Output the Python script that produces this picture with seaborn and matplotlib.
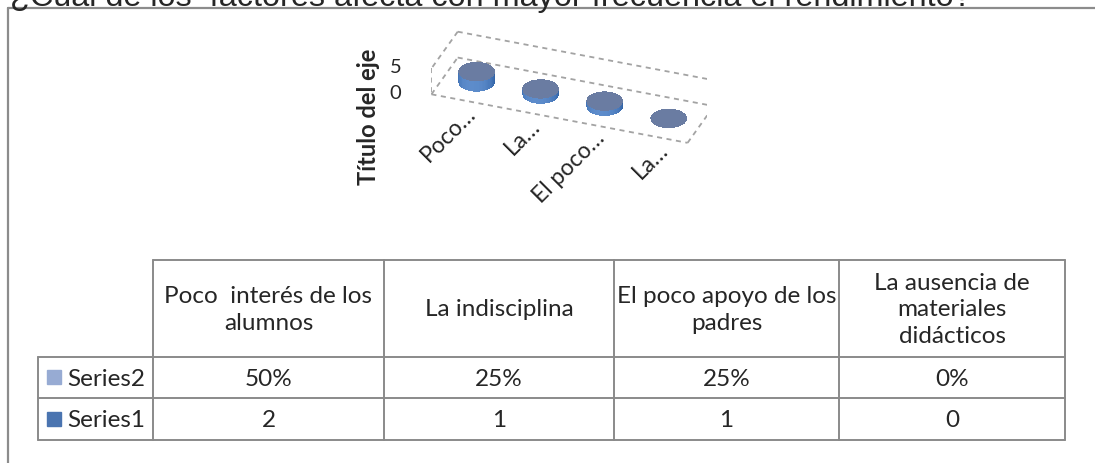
import numpy as np
import matplotlib
matplotlib.use("Agg")
import matplotlib.pyplot as plt
from matplotlib.patches import Rectangle
from matplotlib.transforms import Bbox
from mpl_toolkits.mplot3d import proj3d
import seaborn as sns

# data
categories = ["Poco  interés de los\nalumnos", "La indisciplina",
              "El poco apoyo de los\npadres", "La ausencia de\nmateriales\ndidácticos"]
axis_labels = ["Poco…", "La…", "El poco…", "La…"]
series_names = ["Series2", "Series1"]
series2 = [50, 25, 25, 0]
series1 = [2, 1, 1, 0]
value_ticks = [0, 5]
title = "¿Cuál de los  factores afecta con mayor frecuencia el rendimiento?"

sns.set_theme(style="white")
plt.rcParams['font.family'] = ['Lato', 'DejaVu Sans']

top_color = '#6a7ca2'
side_cmap = sns.blend_palette(['#1f4a85', '#3c6db0', '#5d8ccb'], as_cmap=True)
legend_colors = ['#97abd3', '#4a74b0']
line_gray = '#8c8c8c'

# the figure is a bit taller than the output; the top strip is cropped on save
W, H, extra = 1095, 464, 30
fig = plt.figure(figsize=(W / 100, (H + extra) / 100), dpi=100)

# background canvas in pixel units (frame, title, data table)
bg = fig.add_axes([0, 0, 1, H / (H + extra)])
bg.set_xlim(0, W)
bg.set_ylim(H, 0)
bg.axis('off')

bg.plot([8, 8], [9, H], color=line_gray, lw=1.6)
bg.plot([8, W], [9, 9], color=line_gray, lw=1.6)
bg.text(10, 13, title, fontsize=23.3, family='Liberation Sans',
        ha='left', va='bottom', clip_on=False)

# data table
col_x = [153, 384, 614, 839, 1065]
leg_x = 38
row_y = [261, 358, 399, 441]
tcol = '#8a8a8a'
bg.plot([col_x[0], col_x[-1]], [row_y[0], row_y[0]], color=tcol, lw=1.4)
for y in row_y[1:]:
    bg.plot([leg_x, col_x[-1]], [y, y], color=tcol, lw=1.4)
for x in col_x:
    bg.plot([x, x], [row_y[0], row_y[-1]], color=tcol, lw=1.4)
bg.plot([leg_x, leg_x], [row_y[1], row_y[-1]], color=tcol, lw=1.4)

for i, cat in enumerate(categories):
    xc = (col_x[i] + col_x[i + 1]) / 2
    bg.text(xc, 310, cat, ha='center', va='center', fontsize=17.5, linespacing=1.32)
    bg.text(xc, (row_y[1] + row_y[2]) / 2 + 1, f"{series2[i]}%", ha='center', va='center', fontsize=17.5)
    bg.text(xc, (row_y[2] + row_y[3]) / 2 + 1, str(series1[i]), ha='center', va='center', fontsize=17.5)

for r, (name, c) in enumerate(zip(series_names, legend_colors)):
    yc = (row_y[r + 1] + row_y[r + 2]) / 2
    bg.add_patch(Rectangle((47, yc - 7), 14, 14, color=c))
    bg.text(67, yc + 1, name, ha='left', va='center', fontsize=17.5)

bg.text(368, 117, "Título del eje", rotation=90, ha='center', va='center',
        fontsize=17, fontweight='bold')

# 3D cylinder chart (square axes, 276.6 px side)
side = 276.6
ax = fig.add_axes([430.6 / W, 233.7 / (H + extra), side / W, side / (H + extra)],
                  projection='3d', computed_zorder=False)
ax.set_facecolor('none')
ax.set_proj_type('ortho')
ax.set_box_aspect((3.59, 1, 0.397))
ax.view_init(elev=31, azim=-69.8)
n = len(series1)
zmax = value_ticks[-1]
ax.set_xlim(0, n)
ax.set_ylim(0, 1)
ax.set_zlim(0, zmax)
ax.set_axis_off()

edges = [
    [(0, 0), (1, 0), (zmax, zmax)],
    [(0, 0), (0, 0), (zmax, 0)],
    [(0, 0), (0, 1), (0, 0)],
    [(0, n), (1, 1), (zmax, zmax)],
    [(0, n), (1, 1), (0, 0)],
    [(0, n), (0, 0), (0, 0)],
    [(n, n), (0, 1), (0, 0)],
]
for xs, ys, zs in edges:
    ax.plot(xs, ys, zs, color='#a3a3a3', lw=1.3, ls=(0, (2.8, 2.5)), zorder=1)

rx = 0.26
ry = rx * 3.59 / n
az = np.deg2rad(-69.8)
theta = np.linspace(0, 2 * np.pi, 73)
for i, h in enumerate(series1):
    cx, cy = i + 0.5, 0.5
    if h > 0:
        X = np.vstack([cx + rx * np.cos(theta)] * 2)
        Y = np.vstack([cy + ry * np.sin(theta)] * 2)
        Z = np.vstack([np.zeros_like(theta), np.full_like(theta, h)])
        shade = np.clip(0.4 + 0.6 * np.cos(theta - az + 0.3), 0, 1)
        fc = np.repeat(side_cmap(shade)[None, :, :], 2, axis=0)
        ax.plot_surface(X, Y, Z, facecolors=fc, shade=False, linewidth=0,
                        antialiased=False, rstride=1, cstride=1, zorder=2)
    rr = np.array([0.0, 1.0])
    X = cx + rx * np.outer(rr, np.cos(theta))
    Y = cy + ry * np.outer(rr, np.sin(theta))
    Z = np.full_like(X, h)
    ax.plot_surface(X, Y, Z, color=top_color, shade=False, linewidth=0,
                    antialiased=False, rstride=1, cstride=1, zorder=3)

M = ax.get_proj()
for v in value_ticks:
    px, py, _ = proj3d.proj_transform(0, 0, v, M)
    ax.annotate(str(v), xy=(px, py), xycoords='data', xytext=(-36, 2),
                textcoords='offset pixels', ha='center', va='center', fontsize=14.5)

for i, lab in enumerate(axis_labels):
    px, py, _ = proj3d.proj_transform(i + 0.5, 0, 0, M)
    ax.annotate(lab, xy=(px, py), xycoords='data', xytext=(14, -14),
                textcoords='offset pixels', rotation=45, rotation_mode='anchor',
                ha='right', va='baseline', fontsize=16.5)

fig.savefig("out.png", dpi=100, bbox_inches=Bbox.from_bounds(0, 0, W / 100, H / 100))
